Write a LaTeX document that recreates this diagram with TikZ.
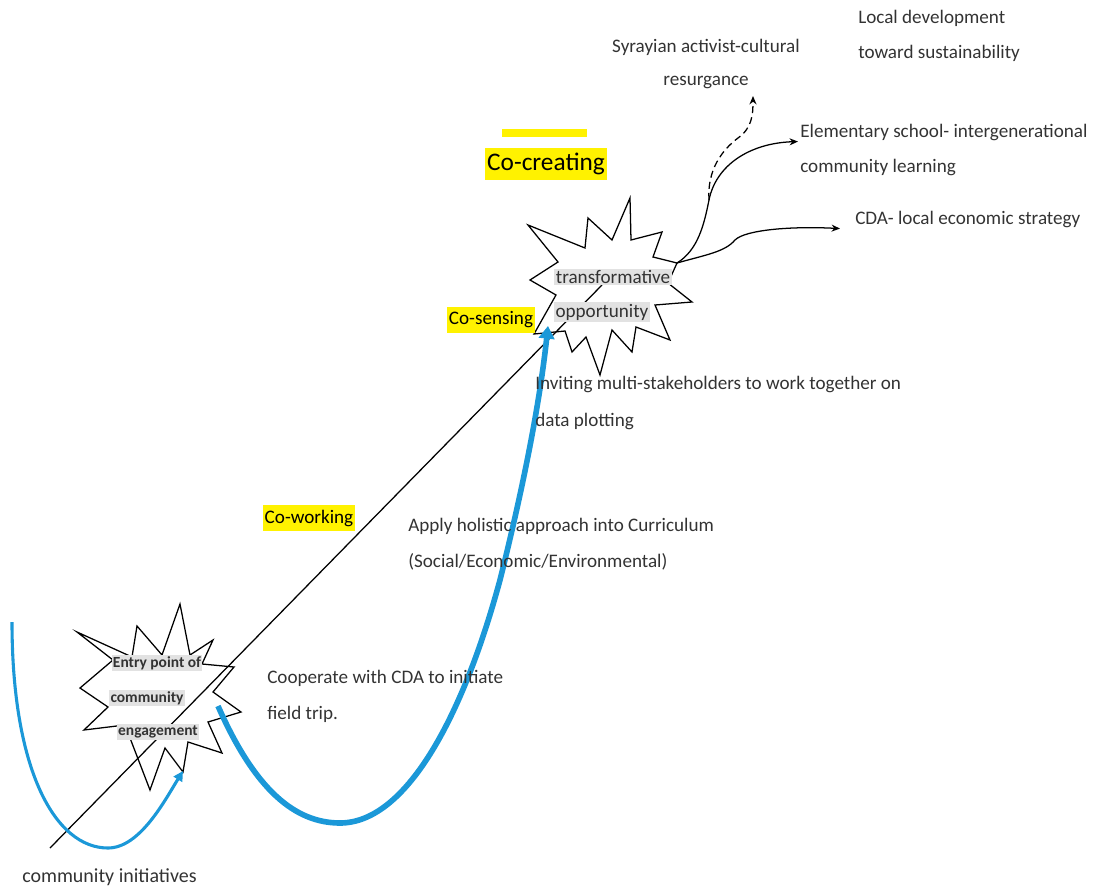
\documentclass[tikz,border=0pt]{standalone}
\usepackage{fontspec}
\setmainfont{Carlito}
\usepackage{xcolor}
\usetikzlibrary{arrows.meta}
\definecolor{curveblue}{RGB}{27,152,216}
\definecolor{lblgray}{RGB}{226,226,226}
\tikzset{
	txt/.style={font=\fontsize{13.6}{16}\selectfont, text=black!80, inner sep=0pt, anchor=west},
	hl/.style={font=\fontsize{13.6}{16}\selectfont, fill=yellow, inner xsep=1.5pt, minimum height=19pt},
	starlbl/.style={font=\fontsize{13.6}{16}\selectfont, text=black!80, fill=lblgray, inner sep=1pt},
	burst/.style={draw, fill=white, line width=0.9pt},
	branch/.style={line width=0.9pt, -{Stealth[length=6pt,width=5pt]}},
}

\begin{document}
\begin{tikzpicture}[x=0.025cm, y=-0.025cm]
		\useasboundingbox (0,0) rectangle (1093,888);
		\draw[burst](77,632)--(113,660)--(80,688)--(108,707)--(84,730)--(125,725)--(150,790)--(165,748)--(183,772)--(188,742)--(222,753)--(208,722)--(241,712)--(213,692)--(234,667)--(202,664)--(213,640)--(190,655)--(180,604)--(162,655)--(137,626)--(132,657)--cycle;
		\draw[burst](528,225)--(558,262)--(530,280)--(556,295)--(534,334)--(565,331)--(572,352)--(586,337)--(600,375)--(612,330)--(632,352)--(636,327)--(670,340)--(655,305)--(692,302)--(668,283)--(677,263)--(653,257)--(662,232)--(631,240)--(630,198)--(612,240)--(588,218)--(585,248)--cycle;
		\coordinate (base) at (50,848);
		\coordinate (peak) at (602,285);
		\draw[line width=0.9pt](base)--(peak);
		\coordinate (blueTop) at (12,622);
		\coordinate (entryIn) at (183,771);
		\coordinate (entryOut) at (218,706);
		\coordinate (transIn) at (548,326);
		\draw[curveblue, line width=2.2pt, -{Triangle[length=7pt,width=7pt]}](blueTop) .. controls (12,770) and (55,848) .. (108,848) .. controls (140,848) and (165,800) .. (entryIn);
		\draw[curveblue, line width=4pt, -{Triangle[length=9pt,width=11pt]}](entryOut) .. controls (255,790) and (295,823) .. (340,823) .. controls (405,823) and (462,720) .. (500,580) .. controls (525,480) and (540,400) .. (transIn);
		\node[starlbl, font=\fontsize{11}{13}\bfseries] (entry1) at (157,663) {Entry point of};
		\node[starlbl, font=\fontsize{11}{13}\bfseries] (entry2) at (147,698) {community};
		\node[starlbl, font=\fontsize{11}{13}\bfseries] (entry3) at (158,732) {engagement};
		\node[starlbl] (trans1) at (613,277) {transformative};
		\node[starlbl] (trans2) at (602,312) {opportunity};
		\fill[yellow](502,129) rectangle (587,137);
		\node[hl, font=\fontsize{18}{20}\selectfont, minimum height=23pt] (cocreate) at (546,164) {Co-creating};
		\node[hl] (cosense) at (491,320) {Co-sensing};
		\node[hl] (cowork) at (309,518) {Co-working};
		\node[txt] (localdev1) at (858,18) {Local development};
		\node[txt] (localdev2) at (858,53) {toward sustainability};
		\node[txt, anchor=center] (syr1) at (706,47) {Syrayian activist-cultural};
		\node[txt, anchor=center] (syr2) at (706,82) {resurgance};
		\node[txt] (elem1) at (800,133) {Elementary school- intergenerational};
		\node[txt] (elem2) at (800,168) {community learning};
		\node[txt] (cda) at (855,220) {CDA- local economic strategy};
		\node[txt] (invite1) at (535,384) {Inviting multi-stakeholders to work together on};
		\node[txt] (invite2) at (535,421) {data plotting};
		\node[txt] (apply1) at (408,526) {Apply holistic approach into Curriculum};
		\node[txt] (apply2) at (408,562) {(Social/Economic/Environmental)};
		\node[txt] (coop1) at (267,678) {Cooperate with CDA to initiate};
		\node[txt] (coop2) at (267,714) {field trip.};
		\node[txt, font=\fontsize{14.2}{17}\selectfont] (init) at (22,877) {community initiatives};
		\coordinate (join) at (677,263);
		\coordinate (fork) at (709,200);
		\coordinate (dashend) at (753,96);
		\draw[branch](join) .. controls (698,250) and (704,225) .. (fork) .. controls (716,165) and (750,143) .. ([xshift=-0.05cm]elem1.south west);
		\draw[branch](join) .. controls (705,255) and (725,252) .. (735,240) .. controls (745,230) and (790,226) .. ([xshift=-0.375cm]cda.south west);
		\draw[branch, dash pattern=on 5pt off 3pt](fork) .. controls (707,170) and (722,150) .. (738,138) .. controls (752,128) and (753,115) .. (dashend);
		\end{tikzpicture}
\end{document}
